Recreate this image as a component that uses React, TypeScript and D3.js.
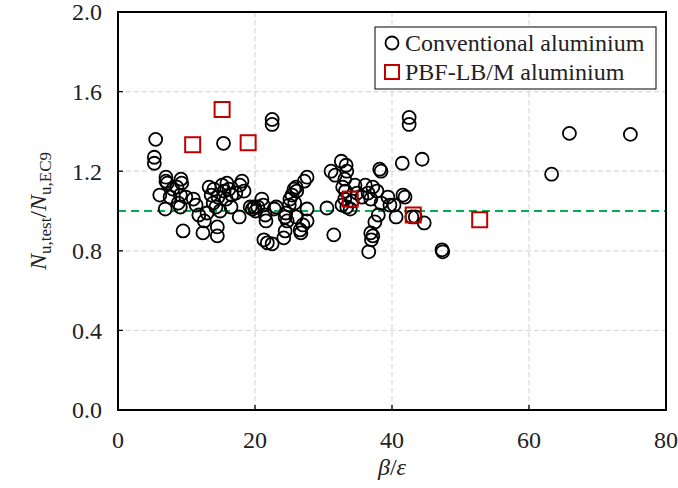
import React from "react";
import * as d3 from "d3";

const convX = [5.5,5.3,5.3,6.1,6.9,7.0,7.0,7.2,7.6,8.0,8.6,8.8,9.1,9.1,9.2,9.3,9.9,9.5,11.0,11.4,11.8,12.4,12.6,13.0,13.3,13.6,13.9,14.0,14.3,14.5,14.5,14.6,14.9,15.2,15.4,15.5,15.8,15.9,16.2,16.5,16.6,17.2,17.7,17.8,18.1,18.4,19.3,19.6,19.9,20.1,20.4,21.0,21.2,21.5,21.6,21.3,21.8,22.5,22.5,22.5,22.8,23.1,24.4,24.5,24.7,24.4,24.2,25.0,25.1,25.4,25.7,26.0,26.1,25.8,26.0,26.6,26.7,27.0,27.2,27.6,27.6,27.6,30.5,31.1,31.7,31.5,32.6,33.3,33.4,33.1,32.8,33.2,33.1,33.4,33.9,34.2,34.6,34.9,35.6,36.1,36.5,36.9,36.9,36.6,37.0,37.2,37.5,38.2,38.4,38.4,38.0,39.7,40.3,40.6,41.5,41.6,41.9,42.5,42.5,44.4,42.9,43.4,44.7,47.3,47.4,63.3,65.9,74.8,32.7,37.2,37.8,39.4];
const convY = [1.36,1.27,1.24,1.08,1.01,1.17,1.15,1.14,1.07,1.11,1.12,1.04,1.08,1.02,1.16,1.14,1.07,0.90,1.06,1.03,0.98,0.89,0.95,0.99,1.12,1.08,1.04,1.11,1.02,0.92,0.875,1.07,1.00,1.13,1.34,1.10,1.06,1.14,1.11,1.02,1.08,1.09,0.97,1.13,1.15,1.10,1.02,1.01,1.02,1.00,1.02,1.06,1.03,0.98,0.95,0.855,0.84,0.835,1.46,1.435,1.01,1.02,0.97,0.99,0.95,0.90,0.865,1.03,1.06,1.08,1.11,1.12,1.10,1.04,0.97,0.905,0.89,0.93,1.15,1.17,1.01,0.95,1.015,1.20,1.18,0.88,1.25,1.23,1.20,1.16,1.12,1.10,1.06,1.02,1.01,1.05,1.13,1.09,1.07,1.13,1.09,1.06,0.89,0.795,0.855,0.875,0.945,1.21,1.20,1.04,0.98,1.03,1.03,0.97,1.24,1.08,1.07,1.47,1.435,1.26,0.97,0.97,0.94,0.805,0.795,1.185,1.39,1.385,1.03,1.12,1.10,1.07];

const pbfX = [10.9,15.2,19.0,33.9,43.1,52.8];
const pbfY = [1.333,1.51,1.343,1.06,0.98,0.956];

const xTicks = [0,20,40,60,80];
const yTicks = [0,0.4,0.8,1.2,1.6,2.0];
const legendLabels = ["Conventional aluminium","PBF-LB/M aluminium"];

const W = 678, H = 488;
const left = 118, right = 666, top = 12, bottom = 410;
const FONT = "Liberation Serif";
const TXT = { fontFamily: FONT } as React.CSSProperties;

export default function App() {
  const x = d3.scaleLinear().domain([0,80]).range([left,right]);
  const y = d3.scaleLinear().domain([0,2]).range([bottom,top]);
  const conv = convX.map((v,i)=>({x:v,y:convY[i]}));
  const pbf = pbfX.map((v,i)=>({x:v,y:pbfY[i]}));
  const sq = 15;
  return (
    <svg width={W} height={H} style={{position:"absolute",left:0,top:0,background:"#fff",fontFamily:FONT}}>
      <rect x={0} y={0} width={W} height={H} fill="#fff" />
      {yTicks.filter(t=>t>0 && t<2).map(t=>(
        <line key={"gy"+t} x1={left} x2={right} y1={y(t)} y2={y(t)} stroke="#d9d9d9" strokeWidth={1.3} strokeDasharray="5,3" />
      ))}
      {xTicks.filter(t=>t>0 && t<80).map(t=>(
        <line key={"gx"+t} x1={x(t)} x2={x(t)} y1={top} y2={bottom} stroke="#d9d9d9" strokeWidth={1.3} strokeDasharray="5,3" />
      ))}
      <line x1={left} x2={right} y1={y(1)} y2={y(1)} stroke="#00b050" strokeWidth={2} strokeDasharray="8,5" />
      {yTicks.map(t=>(
        <line key={"ty"+t} x1={left} x2={left+5} y1={y(t)} y2={y(t)} stroke="#000" strokeWidth={1.3} />
      ))}
      {xTicks.map(t=>(
        <line key={"tx"+t} x1={x(t)} x2={x(t)} y1={bottom} y2={bottom-5} stroke="#000" strokeWidth={1.3} />
      ))}
      {conv.map((d,i)=>(
        <circle key={"c"+i} cx={x(d.x)} cy={y(d.y)} r={6.5} fill="none" stroke="#000" strokeWidth={1.8} />
      ))}
      {pbf.map((d,i)=>(
        <rect key={"s"+i} x={x(d.x)-sq/2} y={y(d.y)-sq/2} width={sq} height={sq} fill="none" stroke="#c00000" strokeWidth={2} />
      ))}
      <rect x={left} y={top} width={right-left} height={bottom-top} fill="none" stroke="#000" strokeWidth={2} />
      {yTicks.map(t=>(
        <text key={"ly"+t} style={TXT} x={102} y={y(t)} dy="0.35em" textAnchor="end" fontSize={24} fill="#222">{d3.format(".1f")(t)}</text>
      ))}
      {xTicks.map(t=>(
        <text key={"lx"+t} style={TXT} x={x(t)} y={448} textAnchor="middle" fontSize={24} fill="#222">{t}</text>
      ))}
      <text style={TXT} x={392} y={475} textAnchor="middle" fontSize={24} fill="#222">
        <tspan fontStyle="italic">β</tspan><tspan>/</tspan><tspan fontStyle="italic">ε</tspan>
      </text>
      <text style={TXT} transform={`translate(46,${(top+bottom)/2}) rotate(-90)`} textAnchor="middle" fontSize={24} fill="#222">
        <tspan fontStyle="italic">N</tspan>
        <tspan fontSize={17} dy={5}>u,test</tspan>
        <tspan dy={-5}>/</tspan>
        <tspan fontStyle="italic">N</tspan>
        <tspan fontSize={17} dy={5}>u,EC9</tspan>
      </text>
      <rect x={375} y={27} width={281} height={62} fill="#fff" stroke="#000" strokeWidth={1} />
      <circle cx={392} cy={43} r={6.5} fill="none" stroke="#000" strokeWidth={1.8} />
      <text style={TXT} x={405} y={51} fontSize={24} fill="#222">{legendLabels[0]}</text>
      <rect x={392-7} y={72-7} width={14} height={14} fill="none" stroke="#c00000" strokeWidth={2} />
      <text style={TXT} x={405} y={80} fontSize={24} fill="#222">{legendLabels[1]}</text>
    </svg>
  );
}
